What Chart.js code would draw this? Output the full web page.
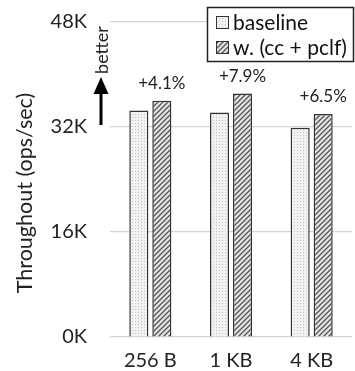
<!DOCTYPE html>
<html>
<head>
<meta charset="utf-8">
<script src="https://cdn.jsdelivr.net/npm/chart.js@4"></script>
<style>
  html, body { margin: 0; padding: 0; background: #fff; }
  #wrap { width: 355px; height: 371px; }
</style>
</head>
<body>
<div id="wrap"><canvas id="GraficoThroughput" width="355" height="371"></canvas></div>
<script>
var categorias = ["256 B", "1 KB", "4 KB"];
var baseline = [34500, 34200, 31900];
var comCcPclf = [36000, 37100, 34000];
var ganhos = ["+4.1%", "+7.9%", "+6.5%"];
var ticksY = [0, 16000, 32000, 48000];
var tituloY = "Throughout (ops/sec)";

var FONTE = "Lato, 'Open Sans', sans-serif";

function PadraoPontos() {
    var c = document.createElement("canvas");
    c.width = 3; c.height = 3;
    var g = c.getContext("2d");
    g.fillStyle = "#f2f2f2";
    g.fillRect(0, 0, 3, 3);
    g.fillStyle = "#c4c4c4";
    g.fillRect(0, 0, 1, 1);
    return g.createPattern(c, "repeat");
}

function PadraoListras() {
    var c = document.createElement("canvas");
    c.width = 5; c.height = 5;
    var g = c.getContext("2d");
    g.fillStyle = "#e4e4e4";
    g.fillRect(0, 0, 5, 5);
    g.strokeStyle = "#555";
    g.lineWidth = 1.3;
    g.beginPath();
    g.moveTo(-1, 6); g.lineTo(6, -1);
    g.moveTo(-1, 1); g.lineTo(1, -1);
    g.moveTo(4, 6); g.lineTo(6, 4);
    g.stroke();
    return g.createPattern(c, "repeat");
}

var extras = {
    id: "extras",
    afterDraw: function (chart) {
        var ctx = chart.ctx;
        ctx.save();
        // rotulos de ganho
        var meta = chart.getDatasetMeta(1);
        ctx.fillStyle = "#222";
        ctx.font = "17px " + FONTE;
        ctx.textAlign = "center";
        ctx.textBaseline = "middle";
        meta.data.forEach(function (bar, i) {
            ctx.fillText(ganhos[i], bar.x, bar.y - 17);
        });

        // titulo do eixo y
        ctx.save();
        ctx.translate(25, 193);
        ctx.rotate(-Math.PI / 2);
        ctx.font = "21.5px " + FONTE;
        ctx.fillStyle = "#222";
        ctx.fillText(tituloY, 0, 0);
        ctx.restore();

        // seta "better"
        ctx.fillStyle = "#000";
        ctx.strokeStyle = "#000";
        ctx.lineWidth = 3;
        ctx.beginPath();
        ctx.moveTo(101, 125); ctx.lineTo(101, 92);
        ctx.stroke();
        ctx.beginPath();
        ctx.moveTo(93.5, 94); ctx.lineTo(108.5, 94); ctx.lineTo(101, 77);
        ctx.closePath();
        ctx.fill();
        ctx.save();
        ctx.translate(102, 50);
        ctx.rotate(-Math.PI / 2);
        ctx.font = "18px " + FONTE;
        ctx.fillStyle = "#222";
        ctx.fillText("better", 0, 0);
        ctx.restore();

        // legenda
        ctx.fillStyle = "#fff";
        ctx.fillRect(207, 7, 147, 55);
        ctx.strokeStyle = "#222";
        ctx.lineWidth = 1.5;
        ctx.strokeRect(207.5, 7.5, 146, 54);
        var itens = [
            { texto: "baseline", fundo: chart.data.datasets[0].backgroundColor, y: 22 },
            { texto: "w. (cc + pclf)", fundo: chart.data.datasets[1].backgroundColor, y: 47 }
        ];
        itens.forEach(function (it) {
            ctx.fillStyle = it.fundo;
            ctx.fillRect(216, it.y - 6, 13, 13);
            ctx.strokeStyle = "#333";
            ctx.lineWidth = 1;
            ctx.strokeRect(216.5, it.y - 5.5, 12, 12);
            ctx.fillStyle = "#111";
            ctx.font = "21px " + FONTE;
            ctx.textAlign = "left";
            ctx.textBaseline = "middle";
            ctx.fillText(it.texto, 233, it.y + 1);
        });
        ctx.restore();
    }
};

new Chart(document.getElementById("GraficoThroughput"), {
    type: "bar",
    data: {
        labels: categorias,
        datasets: [{
            label: "baseline",
            data: baseline,
            backgroundColor: PadraoPontos(),
            borderColor: "#333",
            borderWidth: 1.5,
            categoryPercentage: 0.57,
            barPercentage: 0.83
        }, {
            label: "w. (cc + pclf)",
            data: comCcPclf,
            backgroundColor: PadraoListras(),
            borderColor: "#333",
            borderWidth: 1.5,
            categoryPercentage: 0.57,
            barPercentage: 0.83
        }]
    },
    options: {
        responsive: false,
        animation: false,
        layout: { padding: { top: 22, right: 3, left: 0, bottom: 0 } },
        plugins: {
            legend: { display: false },
            tooltip: { enabled: false }
        },
        scales: {
            x: {
                grid: { display: false },
                border: { display: false },
                ticks: {
                    color: "#222",
                    font: { family: FONTE, size: 20 },
                    padding: 4
                },
                afterFit: function (s) {
                    s.height = 34;
                    s.paddingLeft = 0;
                    s.paddingRight = 0;
                }
            },
            y: {
                min: 0,
                max: 48000,
                afterBuildTicks: function (s) {
                    s.ticks = ticksY.map(function (v) { return { value: v }; });
                },
                grid: { color: "#d4d4d4", drawTicks: false, lineWidth: 1.2 },
                border: { display: false },
                ticks: {
                    color: "#222",
                    font: { family: FONTE, size: 20 },
                    padding: 23,
                    callback: function (v) { return (v / 1000) + "K"; }
                },
                afterFit: function (s) {
                    s.width = 110;
                    s.paddingTop = 0;
                    s.paddingBottom = 0;
                }
            }
        }
    },
    plugins: [extras]
});
</script>
</body>
</html>
